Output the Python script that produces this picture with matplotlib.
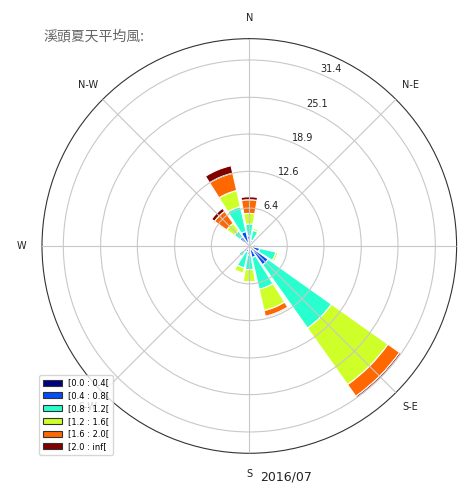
import numpy as np
import matplotlib
matplotlib.use("Agg")
import matplotlib.pyplot as plt
from matplotlib.patches import Patch

# ---- data ----
directions = ['N', 'NNE', 'NE', 'ENE', 'E', 'ESE', 'SE', 'SSE',
              'S', 'SSW', 'SW', 'WSW', 'W', 'WNW', 'NW', 'NNW']
dir_angles = np.arange(16) * 22.5

bin_labels = ['[0.0 : 0.4[', '[0.4 : 0.8[', '[0.8 : 1.2[',
              '[1.2 : 1.6[', '[1.6 : 2.0[', '[2.0 : inf[']

# frequency (%) per direction for each speed bin
bin_0_04 = [0.5, 0.3, 0.3, 0.3, 0.4, 0.5, 1.0, 0.5, 0.4, 0.3, 0.4, 0.2, 0.2, 0.2, 0.4, 0.5]
bin_04_08 = [1.2, 0.7, 0.6, 0.4, 0.7, 1.3, 2.9, 1.5, 1.1, 0.7, 0.8, 0.3, 0.3, 0.4, 1.5, 2.0]
bin_08_12 = [2.0, 1.7, 0.4, 0.2, 0.4, 2.8, 13.1, 5.5, 2.5, 2.8, 1.0, 0.2, 0.2, 0.3, 1.2, 4.3]
bin_12_16 = [1.8, 0.4, 0.0, 0.0, 0.0, 0.4, 11.7, 3.7, 2.1, 0.9, 0.0, 0.0, 0.0, 0.0, 1.6, 2.8]
bin_16_20 = [2.3, 0.0, 0.0, 0.0, 0.0, 0.0, 2.4, 1.0, 0.0, 0.2, 0.0, 0.0, 0.3, 0.1, 2.5, 3.0]
bin_20_inf = [0.5, 0.0, 0.0, 0.0, 0.0, 0.0, 0.3, 0.2, 0.0, 0.0, 0.0, 0.0, 0.0, 0.0, 0.6, 1.3]

rtick_labels = ['6.4', '12.6', '18.9', '25.1', '31.4']
compass_labels = ['N', 'N-E', 'E', 'S-E', 'S', 'S-W', 'W', 'N-W']
title_text = '溪頭夏天平均風:'
date_text = '2016/07'

# ---- figure ----
fig = plt.figure(figsize=(4.74, 4.92), dpi=100)
ax = fig.add_axes([0.0886, 0.0787, 0.8747, 0.8427], projection='polar')
ax.set_theta_zero_location('N')
ax.set_theta_direction(-1)
ax.set_axisbelow(False)

cmap = plt.get_cmap('jet')
bins = [bin_0_04, bin_04_08, bin_08_12, bin_12_16, bin_16_20, bin_20_inf]
colors = [cmap(v) for v in np.linspace(0, 1, len(bins))]

theta = np.deg2rad(dir_angles)
width = np.deg2rad(22.5 * 0.86)
bottom = np.zeros(16)
for vals, col in zip(bins, colors):
    vals = np.asarray(vals)
    ax.bar(theta, vals, width=width, bottom=bottom, color=col,
           edgecolor='white', linewidth=0.8, zorder=1)
    bottom = bottom + vals

ax.set_ylim(0, 35.0)
ax.set_xticks(np.deg2rad(np.arange(0, 360, 45)))
ax.set_xticklabels(compass_labels, fontsize=7, color='#222222')
ax.tick_params(axis='x', pad=4.5)
ax.set_rgrids([float(t) for t in rtick_labels], labels=rtick_labels,
              angle=22.5, fontsize=7, color='#222222')
ax.grid(True, color='#c8c8c8', linewidth=0.8, zorder=3)
ax.spines['polar'].set_color('#333333')
ax.spines['polar'].set_linewidth(0.8)

handles = [Patch(facecolor=c, edgecolor='#333333', linewidth=0.8) for c in colors]
leg = fig.legend(handles, bin_labels, loc='lower left',
                 bbox_to_anchor=(0.083, 0.075), borderaxespad=0,
                 fontsize=6, labelspacing=0.45, handlelength=2.3,
                 handleheight=0.75, handletextpad=0.7, borderpad=0.45,
                 framealpha=0.8)

fig.text(0.091, 0.925, title_text, fontsize=10, color='#666666',
         va='center', ha='left', family=['Noto Sans CJK TC', 'DejaVu Sans'])
fig.text(0.548, 0.018, date_text, fontsize=9, color='#222222',
         va='bottom', ha='left')

fig.savefig('out.png', dpi=100)
